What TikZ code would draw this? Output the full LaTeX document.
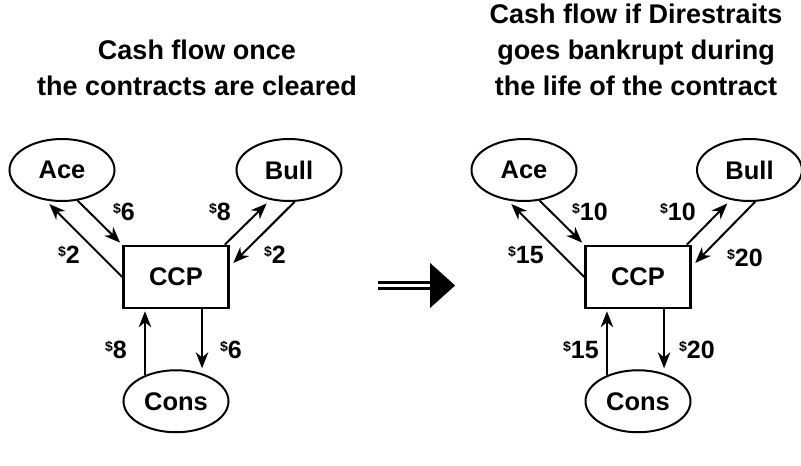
\documentclass[tikz,border=0pt]{standalone}
\usepackage{fontspec}
\setmainfont{Liberation Sans}
\usepackage{tikz}
\usetikzlibrary{shapes.geometric, arrows.meta, positioning}
\newcommand{\usd}[1]{\raisebox{7.5pt}{\fontsize{14}{14}\selectfont\$}#1}

\begin{document}
\begin{tikzpicture}[
  x=1pt, y=1pt,
  party/.style={
    ellipse, draw, line width=2pt,
    minimum width=105pt, minimum height=62pt, inner sep=0pt,
    font=\fontsize{25.5}{30}\selectfont\bfseries
  },
  clearing/.style={
    rectangle, draw, line width=2.5pt,
    minimum width=105pt, minimum height=62pt, inner sep=0pt,
    font=\fontsize{25.5}{30}\selectfont\bfseries
  },
  flow/.style={-{Stealth[length=16pt, width=12.5pt, inset=5pt]}, line width=2pt},
  amount/.style={inner sep=0pt, font=\fontsize{25}{25}\selectfont\bfseries},
  heading/.style={align=center, inner sep=0pt, font=\fontsize{27}{36}\selectfont\bfseries}
]
\useasboundingbox (0,0) rectangle (801,466);

% Left -- cleared contracts
\node[heading, anchor=north] (titleL) at (197,426)
      {Cash flow once\\the contracts are cleared};
\node[clearing] (ccpL) at (176,189) {CCP};
\node[party] (aceL)  at (62,296)  {Ace};
\node[party] (bullL) at (289,296) {Bull};
\node[party, below=60pt of ccpL] (consL) {Cons};

\node[amount] (inAceL)   at (124,254) {\usd{6}};
\node[amount] (outAceL)  at (69,211)  {\usd{2}};
\node[amount] (outBullL) at (220,254) {\usd{8}};
\node[amount] (inBullL)  at (275,211) {\usd{2}};
\node[amount] (inConsL)  at (116,116) {\usd{8}};
\node[amount] (outConsL) at (231,116) {\usd{6}};

% Right -- Direstraits bankrupt
\node[heading, anchor=north] (titleR) at (636,462)
      {Cash flow if Direstraits\\goes bankrupt during\\the life of the contract};
\node[clearing] (ccpR) at (638,189) {CCP};
\node[party] (aceR)  at (524,296)   {Ace};
\node[party] (bullR) at (749.5,296) {Bull};
\node[party, below=60pt of ccpR] (consR) {Cons};

\node[amount] (inAceR)   at (590,254) {\usd{10}};
\node[amount] (outAceR)  at (526,211) {\usd{15}};
\node[amount] (outBullR) at (678,254) {\usd{10}};
\node[amount] (inBullR)  at (745,208) {\usd{20}};
\node[amount] (inConsR)  at (581,116) {\usd{15}};
\node[amount] (outConsR) at (697,116) {\usd{20}};

% Flows to and from the CCP
\foreach \s in {L,R}{
  \draw[flow, shorten >=3pt] (ace\s.-63) -- (ccp\s.north west);
  \draw[flow, shorten >=5pt] (ccp\s.west) -- (ace\s.-118);
  \draw[flow, shorten >=5pt] ([xshift=-5pt]ccp\s.north east) -- (bull\s.-122.5);
  \draw[flow, shorten >=5pt] (bull\s.-80.5) -- ([yshift=10.5pt]ccp\s.east);
  \draw[flow, shorten >=2pt] (cons\s.140) -- (cons\s.140 |- ccp\s.south);
  \draw[flow, shorten >=5pt] (cons\s.47.5 |- ccp\s.south) -- (cons\s.47.5);
}

% Big arrow between the two cases
\coordinate (gapL) at (378,180.5);
\coordinate (gapM) at (431,180.5);
\coordinate (gapR) at (455,180.5);
\draw[double, double distance=3pt, line width=3pt] (gapL) -- (gapM);
\draw[line width=0.1pt, -{Triangle[length=25pt, width=45pt]}] (gapM) -- (gapR);

\end{tikzpicture}
\end{document}
